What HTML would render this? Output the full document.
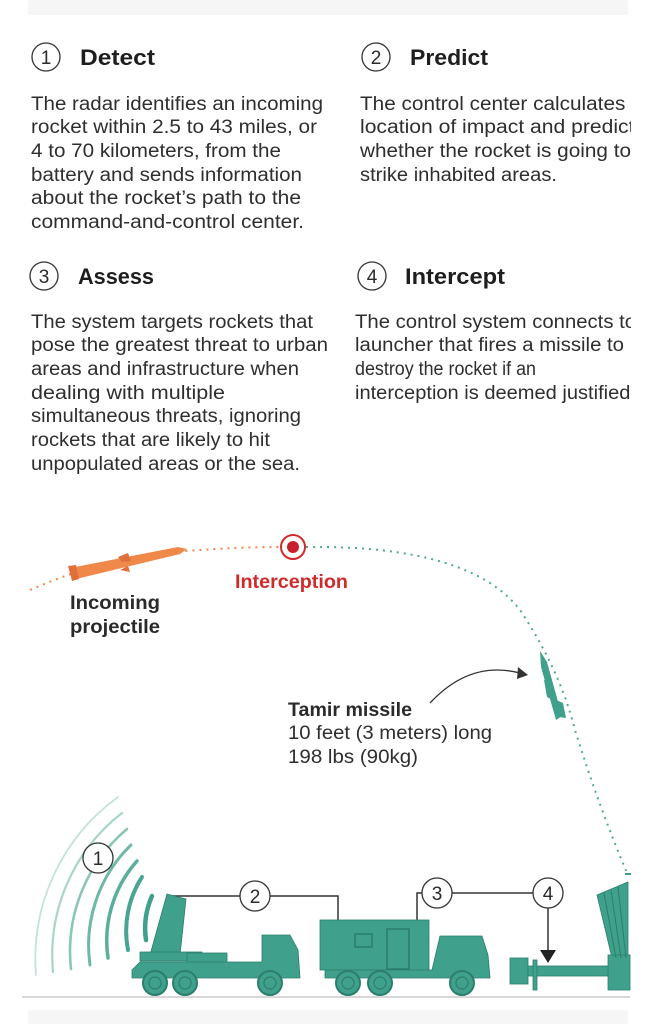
<!DOCTYPE html>
<html><head><meta charset="utf-8"><style>
html,body{margin:0;padding:0;background:#fff;}
svg{display:block;}
text{font-family:"Liberation Sans",Arial,sans-serif;}
.b{font-size:19px;fill:#2e2e2e;}
.h{font-size:22px;font-weight:bold;fill:#1e1e1e;}
.n{font-size:19px;fill:#2a2a2a;}
</style></head><body>
<svg width="658" height="1024" viewBox="0 0 658 1024" xmlns="http://www.w3.org/2000/svg">
<defs><clipPath id="c"><rect x="0" y="0" width="631" height="1024"/></clipPath></defs>
<rect x="28" y="0" width="600" height="15" fill="#f6f6f6"/>
<rect x="28" y="1010" width="600" height="14" fill="#f6f6f6"/>
<g clip-path="url(#c)">
<circle cx="46" cy="57" r="14" fill="none" stroke="#333" stroke-width="1.3"/><text x="46" y="64" text-anchor="middle" class="n">1</text>
<text x="80" y="65" class="h" textLength="75" lengthAdjust="spacingAndGlyphs">Detect</text>
<circle cx="376" cy="57" r="14" fill="none" stroke="#333" stroke-width="1.3"/><text x="376" y="64" text-anchor="middle" class="n">2</text>
<text x="410" y="65" class="h" textLength="78" lengthAdjust="spacingAndGlyphs">Predict</text>
<circle cx="44" cy="276" r="14" fill="none" stroke="#333" stroke-width="1.3"/><text x="44" y="283" text-anchor="middle" class="n">3</text>
<text x="78" y="284" class="h" textLength="76" lengthAdjust="spacingAndGlyphs">Assess</text>
<circle cx="372" cy="276" r="14" fill="none" stroke="#333" stroke-width="1.3"/><text x="372" y="283" text-anchor="middle" class="n">4</text>
<text x="405" y="284" class="h" textLength="100" lengthAdjust="spacingAndGlyphs">Intercept</text>
<g class="b">
<text x="31" y="110" textLength="292" lengthAdjust="spacingAndGlyphs">The radar identifies an incoming</text>
<text x="31" y="133" textLength="286" lengthAdjust="spacingAndGlyphs">rocket within 2.5 to 43 miles, or</text>
<text x="31" y="157" textLength="250" lengthAdjust="spacingAndGlyphs">4 to 70 kilometers, from the</text>
<text x="31" y="181" textLength="271" lengthAdjust="spacingAndGlyphs">battery and sends information</text>
<text x="31" y="204" textLength="270" lengthAdjust="spacingAndGlyphs">about the rocket’s path to the</text>
<text x="31" y="228" textLength="273" lengthAdjust="spacingAndGlyphs">command-and-control center.</text>
<text x="360" y="110" textLength="300" lengthAdjust="spacingAndGlyphs">The control center calculates the</text>
<text x="360" y="133" textLength="285" lengthAdjust="spacingAndGlyphs">location of impact and predicts</text>
<text x="360" y="157" textLength="271" lengthAdjust="spacingAndGlyphs">whether the rocket is going to</text>
<text x="360" y="181" textLength="197" lengthAdjust="spacingAndGlyphs">strike inhabited areas.</text>
<text x="31" y="328" textLength="282" lengthAdjust="spacingAndGlyphs">The system targets rockets that</text>
<text x="31" y="351" textLength="297" lengthAdjust="spacingAndGlyphs">pose the greatest threat to urban</text>
<text x="31" y="375" textLength="268" lengthAdjust="spacingAndGlyphs">areas and infrastructure when</text>
<text x="31" y="399" textLength="194" lengthAdjust="spacingAndGlyphs">dealing with multiple</text>
<text x="31" y="422" textLength="270" lengthAdjust="spacingAndGlyphs">simultaneous threats, ignoring</text>
<text x="31" y="446" textLength="239" lengthAdjust="spacingAndGlyphs">rockets that are likely to hit</text>
<text x="31" y="470" textLength="269" lengthAdjust="spacingAndGlyphs">unpopulated areas or the sea.</text>
<text x="355" y="328" textLength="298" lengthAdjust="spacingAndGlyphs">The control system connects to a</text>
<text x="355" y="351" textLength="269" lengthAdjust="spacingAndGlyphs">launcher that fires a missile to</text>
<text x="355" y="375" textLength="181" lengthAdjust="spacingAndGlyphs">destroy the rocket if an</text>
<text x="355" y="399" textLength="281" lengthAdjust="spacingAndGlyphs">interception is deemed justified.</text>
</g>
<path d="M30 590 Q110 555 185 551 Q240 547 280 547" fill="none" stroke="#f0884a" stroke-width="2" stroke-dasharray="2 5"/>
<path d="M306 547 Q470 545 520 610 Q560 670 575 730 Q600 810 628 875" fill="none" stroke="#4fa896" stroke-width="2" stroke-dasharray="2 5"/>
<polygon points="70,568 178,547 187,549 180,554 72,580" fill="#f0884a"/>
<polygon points="68,566 76,565 79,579 72,581" fill="#e0703a"/>
<polygon points="118,557 128,553 131,561 122,562" fill="#e0703a"/>
<polygon points="120,570 128,566 130,572" fill="#e0703a"/>
<circle cx="293" cy="547" r="12" fill="#fff" stroke="#d22b2b" stroke-width="2"/>
<circle cx="293" cy="547" r="6" fill="#c8202a"/>
<text x="235" y="588" font-size="19" font-weight="bold" fill="#d02a2a" textLength="113" lengthAdjust="spacingAndGlyphs">Interception</text>
<text x="70" y="609" font-size="19" font-weight="bold" fill="#2a2a2a" textLength="90" lengthAdjust="spacingAndGlyphs">Incoming</text>
<text x="70" y="633" font-size="19" font-weight="bold" fill="#2a2a2a" textLength="90" lengthAdjust="spacingAndGlyphs">projectile</text>
<polygon points="540,651 547,662 562,716 556,720 541,667" fill="#3fa08b"/>
<polygon points="544,680 552,682 553,700 547,697" fill="#3fa08b"/>
<polygon points="556,700 563,703 566,718 559,717" fill="#3fa08b"/>
<path d="M430 703 Q470 660 520 673" fill="none" stroke="#333" stroke-width="1.3"/>
<polygon points="518,667 528,675 517,679" fill="#333"/>
<text x="288" y="716" font-size="19" font-weight="bold" fill="#2a2a2a" textLength="124" lengthAdjust="spacingAndGlyphs">Tamir missile</text>
<text x="288" y="739" class="b" textLength="204" lengthAdjust="spacingAndGlyphs">10 feet (3 meters) long</text>
<text x="288" y="763" class="b" textLength="130" lengthAdjust="spacingAndGlyphs">198 lbs (90kg)</text>
<g fill="none" stroke="#3fa08b" stroke-linecap="round">
<path d="M152 896 A80 80 0 0 0 146 940" stroke-width="4.5"/>
<path d="M142 877 A100 100 0 0 0 128 950" stroke-width="4" opacity=".95"/>
<path d="M137 861 A120 120 0 0 0 108 958" stroke-width="3.5" opacity=".85"/>
<path d="M131 845 A140 140 0 0 0 90 965" stroke-width="3" opacity=".75"/>
<path d="M127 829 A160 160 0 0 0 71 969" stroke-width="2.6" opacity=".6"/>
<path d="M122 813 A180 180 0 0 0 53 972" stroke-width="2.2" opacity=".45"/>
<path d="M118 797 A200 200 0 0 0 36 975" stroke-width="1.8" opacity=".3"/>
</g>
<circle cx="98" cy="858" r="15" fill="#fff" stroke="#333" stroke-width="1.3"/><text x="98" y="865" text-anchor="middle" class="n">1</text>
<g stroke="#333" stroke-width="1.5" fill="none">
<path d="M170 896 H240"/><path d="M270 896 H338 V935"/>
<path d="M417 921 V893 H422"/><path d="M452 893 H533"/>
<path d="M548 908 V950"/>
</g>
<polygon points="330,933 346,933 338,947" fill="#222"/>
<polygon points="540,950 556,950 548,963" fill="#222"/>
<circle cx="255" cy="896" r="15" fill="#fff" stroke="#333" stroke-width="1.3"/><text x="255" y="903" text-anchor="middle" class="n">2</text>
<circle cx="437" cy="893" r="15" fill="#fff" stroke="#333" stroke-width="1.3"/><text x="437" y="900" text-anchor="middle" class="n">3</text>
<circle cx="548" cy="893" r="15" fill="#fff" stroke="#333" stroke-width="1.3"/><text x="548" y="900" text-anchor="middle" class="n">4</text>
<g fill="#3fa08b" stroke="#2c7e6c" stroke-width="0.8">
<polygon points="167,894 186,899 180,955 150,955"/>
<rect x="140" y="952" width="62" height="9"/>
<rect x="187" y="953" width="40" height="15"/>
<polygon points="132,970 140,962 262,962 262,935 290,935 298,950 300,978 132,978"/>
<rect x="320" y="920" width="109" height="50"/>
<polygon points="325,970 432,970 440,936 482,936 488,955 490,978 325,978"/>
<rect x="510" y="958" width="18" height="26"/>
<rect x="528" y="966" width="95" height="10"/>
<rect x="533" y="960" width="4" height="30"/>
<polygon points="597,895 628,882 628,958 612,958"/>
<rect x="608" y="955" width="22" height="35"/>
</g>
<g stroke="#2c7e6c" stroke-width="1"><line x1="604" y1="893" x2="616" y2="958"/><line x1="611" y1="890" x2="621" y2="958"/><line x1="618" y1="887" x2="626" y2="958"/></g>
<rect x="355" y="934" width="17" height="13" fill="none" stroke="#2c7e6c" stroke-width="1.5"/>
<rect x="387" y="929" width="22" height="40" fill="none" stroke="#2c7e6c" stroke-width="1.5"/>
<g fill="#3fa08b" stroke="#2c7e6c" stroke-width="2">
<circle cx="155" cy="983" r="12"/><circle cx="185" cy="983" r="12"/><circle cx="270" cy="983" r="12"/>
<circle cx="348" cy="983" r="12"/><circle cx="380" cy="983" r="12"/><circle cx="462" cy="983" r="12"/>
</g>
<g fill="none" stroke="#2c7e6c" stroke-width="1.2">
<circle cx="155" cy="983" r="6"/><circle cx="185" cy="983" r="6"/><circle cx="270" cy="983" r="6"/>
<circle cx="348" cy="983" r="6"/><circle cx="380" cy="983" r="6"/><circle cx="462" cy="983" r="6"/>
</g>
<rect x="625" y="873" width="6" height="2" fill="#3fa08b"/>
<line x1="22" y1="997" x2="630" y2="997" stroke="#ccc" stroke-width="1.5"/>
</g>
</svg>
</body></html>
